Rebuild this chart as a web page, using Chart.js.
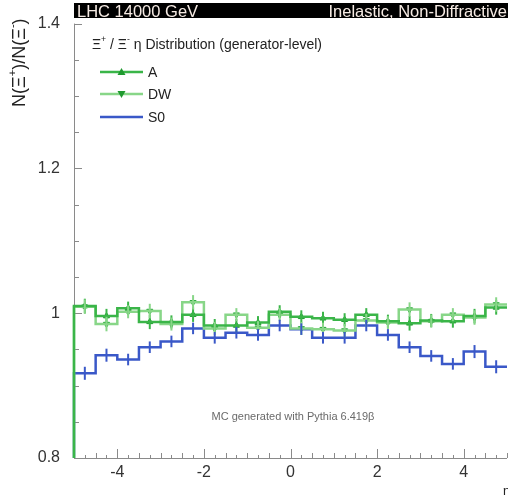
<!DOCTYPE html>
<html>
<head>
<meta charset="utf-8">
<title>Xi+/Xi- eta distribution</title>
<script src="https://cdn.jsdelivr.net/npm/chart.js@4.4.1/dist/chart.umd.min.js"></script>
<style>
  html, body { margin: 0; padding: 0; background: #fff; overflow: hidden; }
  #wrap { position: relative; width: 512px; height: 501px; }
</style>
</head>
<body>
<div id="wrap"><canvas id="ratioChart" width="512" height="501"></canvas></div>
<script>
// bin edges in eta (20 bins of 0.5)
const etaEdges = [-5, -4.5, -4, -3.5, -3, -2.5, -2, -1.5, -1, -0.5, 0,
                  0.5, 1, 1.5, 2, 2.5, 3, 3.5, 4, 4.5, 5];

// N(Xi+)/N(Xi-) per bin
const ratioA  = [1.010, 0.996, 1.007, 0.988, 0.988, 0.998, 0.983, 0.983, 0.987, 1.002,
                 0.995, 0.993, 0.991, 0.998, 0.989, 0.986, 0.990, 0.989, 0.996, 1.008];
const ratioDW = [1.009, 0.985, 1.002, 1.003, 0.985, 1.015, 0.979, 0.998, 0.980, 0.998,
                 0.979, 0.978, 0.976, 0.990, 0.987, 1.005, 0.989, 0.998, 0.994, 1.012];
const ratioS0 = [0.917, 0.942, 0.936, 0.953, 0.961, 0.979, 0.966, 0.973, 0.970, 0.983,
                 0.978, 0.966, 0.966, 0.983, 0.970, 0.953, 0.941, 0.930, 0.947, 0.926];

// statistical errors
const errA  = [0.010, 0.010, 0.009, 0.010, 0.009, 0.010, 0.009, 0.009, 0.009, 0.009,
               0.009, 0.009, 0.009, 0.009, 0.009, 0.010, 0.009, 0.009, 0.010, 0.010];
const errDW = [0.010, 0.010, 0.009, 0.010, 0.009, 0.010, 0.009, 0.009, 0.009, 0.009,
               0.009, 0.009, 0.009, 0.009, 0.009, 0.010, 0.009, 0.009, 0.010, 0.010];
const errS0 = [0.009, 0.009, 0.008, 0.008, 0.008, 0.008, 0.008, 0.008, 0.008, 0.008,
               0.008, 0.008, 0.008, 0.008, 0.008, 0.008, 0.008, 0.008, 0.009, 0.009];

const yTickLabels = [0.8, 1, 1.2, 1.4];
const xTickLabels = [-4, -2, 0, 2, 4];
const Y_MIN = 0.8, Y_MAX = 1.4;

const COL_A = '#3ab548';
const COL_DW = '#88d688';
const COL_S0 = '#3a58c8';
const FONT = '"Liberation Sans", Arial, Helvetica, sans-serif';

// histogram outline: starts at the axis floor, one point per left edge, closes at the last edge
function histPoints(vals) {
  const pts = [{ x: etaEdges[0], y: Y_MIN }];
  vals.forEach((v, i) => pts.push({ x: etaEdges[i], y: v }));
  pts.push({ x: etaEdges[etaEdges.length - 1], y: vals[vals.length - 1] });
  return pts;
}

function centerPoints(vals) {
  return vals.map((v, i) => ({ x: (etaEdges[i] + etaEdges[i + 1]) / 2, y: v }));
}

// draw text with superscript pieces, left to right from (x, y)
function drawPieces(ctx, pieces, x, y, size) {
  pieces.forEach(p => {
    const s = p.sup ? size * 0.62 : size;
    ctx.font = `${s}px ${FONT}`;
    ctx.fillText(p.t, x, p.sup ? y - size * 0.38 : y);
    x += ctx.measureText(p.t).width;
  });
  return x;
}

const errorBars = {
  id: 'errorBars',
  afterDatasetsDraw(chart) {
    const { ctx, scales: { x, y } } = chart;
    const series = [[ratioA, errA, COL_A], [ratioDW, errDW, COL_DW], [ratioS0, errS0, COL_S0]];
    ctx.save();
    ctx.lineWidth = 2;
    series.forEach(([vals, errs, col]) => {
      ctx.strokeStyle = col;
      vals.forEach((v, i) => {
        const px = x.getPixelForValue((etaEdges[i] + etaEdges[i + 1]) / 2);
        ctx.beginPath();
        ctx.moveTo(px, y.getPixelForValue(v - errs[i]));
        ctx.lineTo(px, y.getPixelForValue(v + errs[i]));
        ctx.stroke();
      });
    });
    ctx.restore();
  }
};

const rootFrame = {
  id: 'rootFrame',
  beforeDatasetsDraw(chart) {
    const { ctx, chartArea: a, scales: { x, y } } = chart;
    ctx.save();
    ctx.strokeStyle = '#8a8a8a';
    ctx.lineWidth = 1;
    ctx.beginPath();
    ctx.moveTo(a.left + 0.5, a.top);
    ctx.lineTo(a.left + 0.5, a.bottom + 0.5);
    ctx.lineTo(a.right, a.bottom + 0.5);
    // inward ticks
    for (let k = 0; k <= 12; k++) {
      const py = Math.round(y.getPixelForValue(Y_MIN + k * 0.05)) + 0.5;
      const len = k % 4 === 0 ? 8 : 5;
      ctx.moveTo(a.left, py);
      ctx.lineTo(a.left + len, py);
    }
    for (let k = 0; k <= 40; k++) {
      const v = -5 + k * 0.25;
      const px = Math.round(x.getPixelForValue(v)) + 0.5;
      const len = (k - 4) % 8 === 0 ? 9 : (k % 2 === 0 ? 5 : 3);
      ctx.moveTo(px, a.bottom);
      ctx.lineTo(px, a.bottom - len);
    }
    ctx.stroke();
    ctx.restore();
  },
  afterDraw(chart) {
    const { ctx, chartArea: a } = chart;
    ctx.save();
    // header bar
    ctx.fillStyle = '#000';
    ctx.fillRect(a.left, 3, chart.width - a.left, 15);
    ctx.fillStyle = '#f6ebe4';
    ctx.font = `16.5px ${FONT}`;
    ctx.textBaseline = 'alphabetic';
    ctx.textAlign = 'left';
    ctx.fillText('LHC 14000 GeV', a.left + 3, 17);
    ctx.textAlign = 'right';
    ctx.fillText('Inelastic, Non-Diffractive', 507, 17);

    // y axis title, rotated
    ctx.fillStyle = '#222';
    ctx.textAlign = 'left';
    ctx.textBaseline = 'middle';
    ctx.save();
    ctx.translate(20, 107);
    ctx.rotate(-Math.PI / 2);
    drawPieces(ctx, [
      { t: 'N(Ξ' }, { t: '+', sup: true }, { t: ')/N(Ξ' }, { t: '-', sup: true }, { t: ')' }
    ], 0, 0, 18);
    ctx.restore();

    // legend title
    ctx.fillStyle = '#222';
    drawPieces(ctx, [
      { t: 'Ξ' }, { t: '+', sup: true }, { t: ' / Ξ' }, { t: '-', sup: true },
      { t: ' η Distribution (generator-level)' }
    ], 92, 45, 14);

    // legend entries
    const entries = [['A', COL_A, 'up', 72], ['DW', COL_DW, 'down', 94], ['S0', COL_S0, null, 117]];
    entries.forEach(([label, col, mark, ly]) => {
      ctx.strokeStyle = col;
      ctx.lineWidth = 2.5;
      ctx.beginPath();
      ctx.moveTo(100, ly);
      ctx.lineTo(143, ly);
      ctx.stroke();
      if (mark) {
        ctx.fillStyle = '#1f9a2f';
        ctx.beginPath();
        if (mark === 'up') {
          ctx.moveTo(121.5, ly - 4); ctx.lineTo(125.5, ly + 3); ctx.lineTo(117.5, ly + 3);
        } else {
          ctx.moveTo(121.5, ly + 4); ctx.lineTo(125.5, ly - 3); ctx.lineTo(117.5, ly - 3);
        }
        ctx.closePath();
        ctx.fill();
      }
      ctx.fillStyle = '#222';
      ctx.font = `14px ${FONT}`;
      ctx.fillText(label, 148, ly + 1);
    });

    // generator note
    ctx.fillStyle = '#6a6a6a';
    ctx.font = `11px ${FONT}`;
    ctx.textAlign = 'center';
    ctx.fillText('MC generated with Pythia 6.419β', 293, 417);

    // x axis title (cut at the right edge)
    ctx.fillStyle = '#222';
    ctx.textAlign = 'left';
    ctx.font = `13px ${FONT}`;
    ctx.fillText('η', 503, 491);
    ctx.restore();
  }
};

new Chart(document.getElementById('ratioChart'), {
  type: 'line',
  data: {
    datasets: [
      { label: 'A', data: histPoints(ratioA), borderColor: COL_A, borderWidth: 2.5,
        stepped: true, pointRadius: 0, clip: 4 },
      { label: 'DW', data: histPoints(ratioDW), borderColor: COL_DW, borderWidth: 2.5,
        stepped: true, pointRadius: 0, clip: 4 },
      { label: 'S0', data: histPoints(ratioS0), borderColor: COL_S0, borderWidth: 2.5,
        stepped: true, pointRadius: 0, clip: 4 },
      { type: 'scatter', label: 'A pts', data: centerPoints(ratioA), showLine: false,
        pointStyle: 'triangle', pointRadius: 3.5, backgroundColor: '#1f9a2f', borderColor: '#1f9a2f' },
      { type: 'scatter', label: 'DW pts', data: centerPoints(ratioDW), showLine: false,
        pointStyle: 'triangle', rotation: 180, pointRadius: 3.5, backgroundColor: '#2aa83a', borderColor: '#2aa83a' }
    ]
  },
  options: {
    responsive: false,
    animation: false,
    layout: { padding: { top: 18, right: 1, left: 0, bottom: 0 } },
    plugins: {
      legend: { display: false },
      tooltip: { enabled: false }
    },
    scales: {
      x: {
        type: 'linear',
        min: -5,
        max: 5,
        grid: { display: false, drawTicks: false },
        border: { display: false },
        afterBuildTicks: (s) => { s.ticks = xTickLabels.map(v => ({ value: v })); },
        afterFit: (s) => { s.height = 43; },
        ticks: {
          padding: 5,
          maxRotation: 0,
          color: '#333',
          font: { family: FONT, size: 16 },
          callback: (v) => String(v)
        }
      },
      y: {
        type: 'linear',
        min: Y_MIN,
        max: Y_MAX,
        grid: { display: false, drawTicks: false },
        border: { display: false },
        afterBuildTicks: (s) => { s.ticks = yTickLabels.map(v => ({ value: v })); },
        afterFit: (s) => { s.width = 74; },
        ticks: {
          padding: 14,
          color: '#333',
          font: { family: FONT, size: 16 },
          callback: (v) => String(v)
        }
      }
    }
  },
  plugins: [rootFrame, errorBars]
});
</script>
</body>
</html>
